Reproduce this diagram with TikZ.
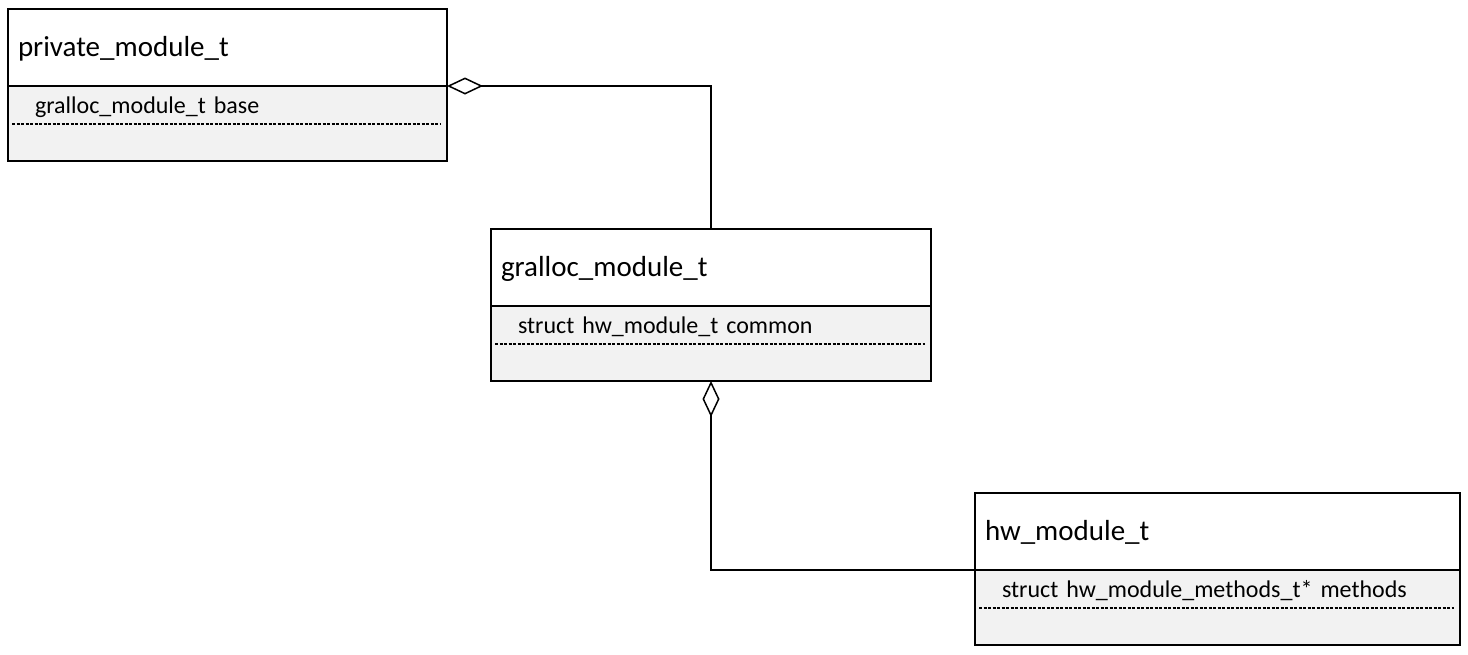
\documentclass[tikz,border=0pt]{standalone}
\usepackage{fontspec}
\setmainfont{Carlito}
\usepackage{tikz}
\usetikzlibrary{positioning,arrows.meta}

\begin{document}
\begin{tikzpicture}[
			x=1pt,y=1pt,
			every node/.style={
				draw,
				line width=1.5pt,
				outer sep=0pt,
				inner ysep=0pt,
				inner xsep=10pt,
				align=left
			},
			classtitle/.style={
				fill=white,
				text width=#1,
				minimum height=77pt,
				text height=21.5pt,
				text depth=4.5pt,
				font=\fontsize{29}{34}\selectfont
			},
			classbody/.style={
				fill=black!5,
				text width=#1,
				inner xsep=27pt,
				minimum height=75pt,
				text height=27pt,
				text depth=48pt,
				font=\fontsize{24}{29}\selectfont
			},
			attrsep/.style={
				line width=1.3pt,
				dash pattern=on 3pt off 1.5pt
			},
			aggregation/.style={
				line width=1.5pt,
				{Diamond[open,length=36pt,width=17pt,line width=1.5pt]}-
			}
			]
			
			\useasboundingbox (0,0) rectangle (1468,-654);
			
			%%%%%%%%%%%%%%%%%%%%%%%%%%%%%%%%%%%%%%%%%%%%%%%%%%%%%%%%%%%%
			% private_module_t
			%%%%%%%%%%%%%%%%%%%%%%%%%%%%%%%%%%%%%%%%%%%%%%%%%%%%%%%%%%%%
			
			\node (privt) [classtitle=419pt,anchor=north west] at (8,-9)
			{private\_module\_t};
			
			\node (privb) [classbody=385pt,below=0pt of privt]
			{gralloc\_module\_t base};
			
			%%%%%%%%%%%%%%%%%%%%%%%%%%%%%%%%%%%%%%%%%%%%%%%%%%%%%%%%%%%%
			% gralloc_module_t
			%%%%%%%%%%%%%%%%%%%%%%%%%%%%%%%%%%%%%%%%%%%%%%%%%%%%%%%%%%%%
			
			\node (grallt) [classtitle=420pt,below right=68pt and 44pt of privb]
			{gralloc\_module\_t};
			
			\node (gralb) [classbody=386pt,below=0pt of grallt]
			{struct hw\_module\_t common};
			
			%%%%%%%%%%%%%%%%%%%%%%%%%%%%%%%%%%%%%%%%%%%%%%%%%%%%%%%%%%%%
			% hw_module_t
			%%%%%%%%%%%%%%%%%%%%%%%%%%%%%%%%%%%%%%%%%%%%%%%%%%%%%%%%%%%%
			
			\node (hwt) [classtitle=465pt,below right=112pt and 44pt of gralb]
			{hw\_module\_t};
			
			\node (hwb) [classbody=431pt,below=0pt of hwt]
			{struct hw\_module\_methods\_t* methods};
			
			%%%%%%%%%%%%%%%%%%%%%%%%%%%%%%%%%%%%%%%%%%%%%%%%%%%%%%%%%%%%
			% Attribute separators
			%%%%%%%%%%%%%%%%%%%%%%%%%%%%%%%%%%%%%%%%%%%%%%%%%%%%%%%%%%%%
			
			\foreach \body in {privb,gralb,hwb}
			\draw[attrsep] ([shift={(4,-38)}]\body.north west) -- ([shift={(-6,-38)}]\body.north east);
			
			%%%%%%%%%%%%%%%%%%%%%%%%%%%%%%%%%%%%%%%%%%%%%%%%%%%%%%%%%%%%
			% Aggregations
			%%%%%%%%%%%%%%%%%%%%%%%%%%%%%%%%%%%%%%%%%%%%%%%%%%%%%%%%%%%%
			
			% gralloc_module_t in private_module_t
			
			\draw[aggregation] (privt.south east) -| (grallt.north);
			
			% hw_module_t in gralloc_module_t
			
			\draw[aggregation] (gralb.south) |- (hwt.south west);
			
			%%%%%%%%%%%%%%%%%%%%%%%%%%%%%%%%%%%%%%%%%%%%%%%%%%%%%%%%%%%%
			
		\end{tikzpicture}
\end{document}
